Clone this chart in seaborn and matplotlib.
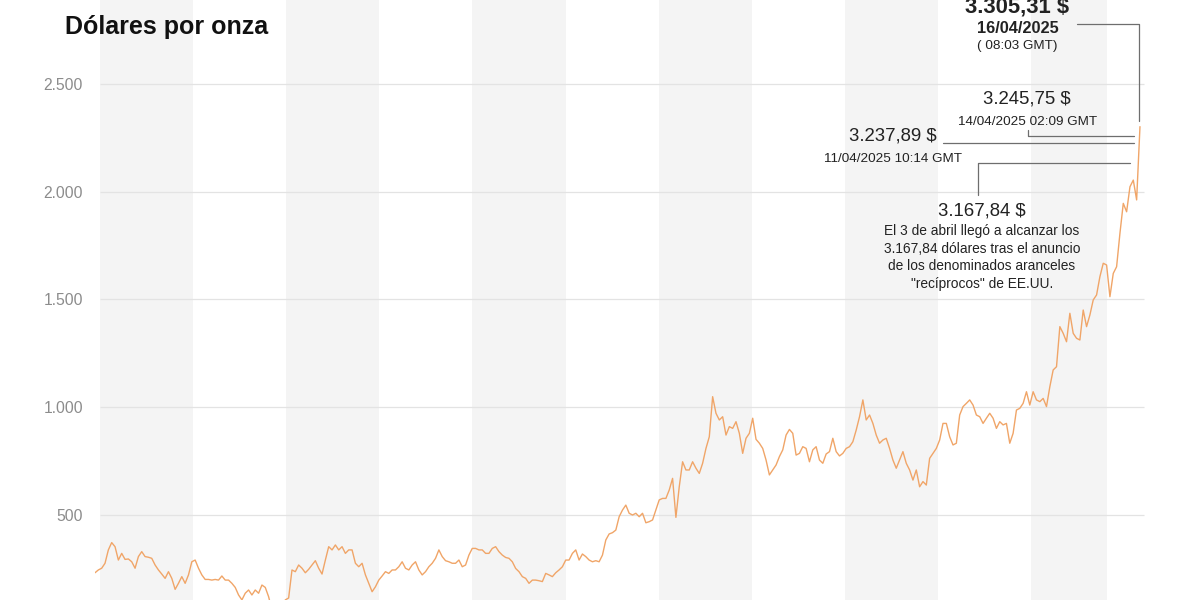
import numpy as np
import matplotlib
matplotlib.use("Agg")
import matplotlib.pyplot as plt
from matplotlib.lines import Line2D
import seaborn as sns

# ---------------- data ----------------
price = [
    # 1970-1980
    232, 245, 253, 276, 338, 372, 353, 291, 322, 294, 296, 283, 253, 307, 330, 307, 304, 299, 268, 245,
    226, 206, 237, 206, 155, 183, 214, 183, 222, 283, 291, 253, 222, 201, 201, 198, 201, 198, 217, 198,
    198, 183, 164, 129, 106, 137, 152, 129, 152, 137, 175, 164, 121, 59, 36, 36, 59, 106, 115,
    # 1980-1990
    245, 237, 268, 253, 232, 248, 268, 288, 253, 226, 291, 353, 338, 361, 338, 353, 322, 338, 338, 276,
    260, 276, 222, 183, 144, 167, 198, 217, 237, 229, 245, 245, 260, 283, 253, 245, 268, 283, 245, 222,
    237, 260, 276, 299, 338, 307, 288, 283, 276, 276, 291, 260, 268, 314, 345, 345, 338, 338, 322,
    # 1990-2001
    322, 345, 353, 330, 314, 303, 299, 283, 252, 237, 214, 206, 183, 198, 198, 195, 191, 229, 222, 214,
    232, 245, 260, 291, 291, 322, 338, 291, 319, 307, 291, 283, 288, 283, 314, 384, 412, 418, 430, 492,
    523, 546, 508, 500, 508, 492, 508, 464, 469, 477, 523, 570, 577, 577, 616, 670, 489, 631, 747, 709,
    # 2001-2011
    709, 747, 717, 693, 740, 809, 863, 1049, 972, 941, 956, 871, 910, 902, 933, 879, 786, 856, 879, 949,
    851, 833, 809, 755, 686, 709, 732, 771, 802, 871, 897, 879, 778, 786, 817, 809, 747, 802, 817, 755,
    740, 783, 794, 856, 794, 774, 786, 809, 817, 840, 894, 956, 1034, 941, 964, 925, 871, 833, 848, 856,
    809, 755, 717,
    # 2011-2022
    755, 794, 740, 709, 662, 709, 631, 655, 639, 763, 786, 809, 848, 925, 925, 863, 825, 833, 964, 1003,
    1018, 1034, 1010, 964, 956, 925, 949, 972, 949, 902, 933, 918, 925, 833, 879, 987, 995, 1018, 1072, 1010,
    1072, 1034, 1026, 1041, 1003, 1095, 1173, 1188, 1374, 1343, 1304, 1436, 1343, 1320, 1312, 1451, 1374, 1428, 1498, 1521,
    # final stretch
    1606, 1668, 1660, 1513, 1621, 1652, 1807, 1946, 1907, 2023, 2054, 1962, 2302,
]
years = np.linspace(1969.73, 2025.85, len(price))

band_starts = [1970, 1980, 1990, 2000, 2010, 2020]
band_ends = [1975, 1985, 1995, 2005, 2015, 2024.1]

y_ticks = [500, 1000, 1500, 2000, 2500]
y_labels = ["500", "1.000", "1.500", "2.000", "2.500"]

title = "Dólares por onza"
ann_top = ["3.305,31 $", "16/04/2025", "( 08:03 GMT)"]
ann_1404 = ["3.245,75 $", "14/04/2025 02:09 GMT"]
ann_1104 = ["3.237,89 $", "11/04/2025 10:14 GMT"]
ann_0304_head = "3.167,84 $"
ann_0304_body = [
    "El 3 de abril llegó a alcanzar los",
    "3.167,84 dólares tras el anuncio",
    "de los denominados aranceles",
    "\"recíprocos\" de EE.UU.",
]

# ---------------- style ----------------
sns.set_theme(style="white")
plt.rcParams["font.family"] = ["Liberation Sans", "DejaVu Sans"]
REG = ["Liberation Sans", "DejaVu Sans"]

W, H = 1200, 600
fig = plt.figure(figsize=(12, 6), dpi=100)
fig.patch.set_facecolor("white")
ax = fig.add_axes([95 / W, 0, 1050 / W, 1])
ax.set_facecolor("white")

for a, b in zip(band_starts, band_ends):
    ax.axvspan(a, b, color="#f4f4f4", zorder=0, lw=0)

ax.hlines(y_ticks, 1970, 2026.07, color="#e3e3e3", lw=0.9, zorder=1)

sns.lineplot(x=years, y=price, ax=ax, color="#f0a568", linewidth=1.0,
             estimator=None, sort=False, zorder=3)

ax.set_xlim(1969.73, 2026.12)
ax.set_ylim(105.6, 2889.6)
ax.set_yticks(y_ticks)
ax.set_yticklabels(y_labels, family=REG)
ax.set_xticks([])
ax.tick_params(axis="y", length=0, pad=8.6, labelsize=11.3, labelcolor="#8c8c8c")
ax.set_xlabel("")
ax.set_ylabel("")
for s in ax.spines.values():
    s.set_visible(False)


def P(px, py):
    return px / W, 1 - py / H


def ftext(px, py, s, size, bold=False, color="#222222"):
    x, y = P(px, py)
    fig.text(x, y, s, ha="center", va="baseline", fontsize=size,
             fontweight="bold" if bold else "normal", family=REG, color=color)


def fline(pts):
    xs = [p[0] / W for p in pts]
    ys = [1 - p[1] / H for p in pts]
    fig.add_artist(Line2D(xs, ys, transform=fig.transFigure, color="#6e6e6e", lw=0.9))


# title
tx, ty = P(65, 34)
fig.text(tx, ty, title, ha="left", va="baseline", fontsize=18, fontweight="bold",
         family=REG, color="#111111")

# annotations
ftext(1017.5, 12, ann_top[0], 15.8, bold=True)
ftext(1017.5, 33, ann_top[1], 11.8, bold=True)
ftext(1017, 49.5, ann_top[2], 9.7)

ftext(1027, 104, ann_1404[0], 13.4)
ftext(1027.5, 125, ann_1404[1], 9.7)

ftext(892.5, 140, ann_1104[0], 13.4)
ftext(892.5, 162, ann_1104[1], 9.7)

ftext(982, 216, ann_0304_head, 13.4)
for i, line in enumerate(ann_0304_body):
    ftext(982, 235 + i * 17.7, line, 9.9)

# leader lines
fline([(1077, 24), (1139, 24), (1139, 121)])
fline([(1028, 130), (1028, 136), (1134, 136)])
fline([(943, 143), (1134, 143)])
fline([(978, 195), (978, 163), (1130, 163)])

fig.savefig("out.png", dpi=100, facecolor="white")
